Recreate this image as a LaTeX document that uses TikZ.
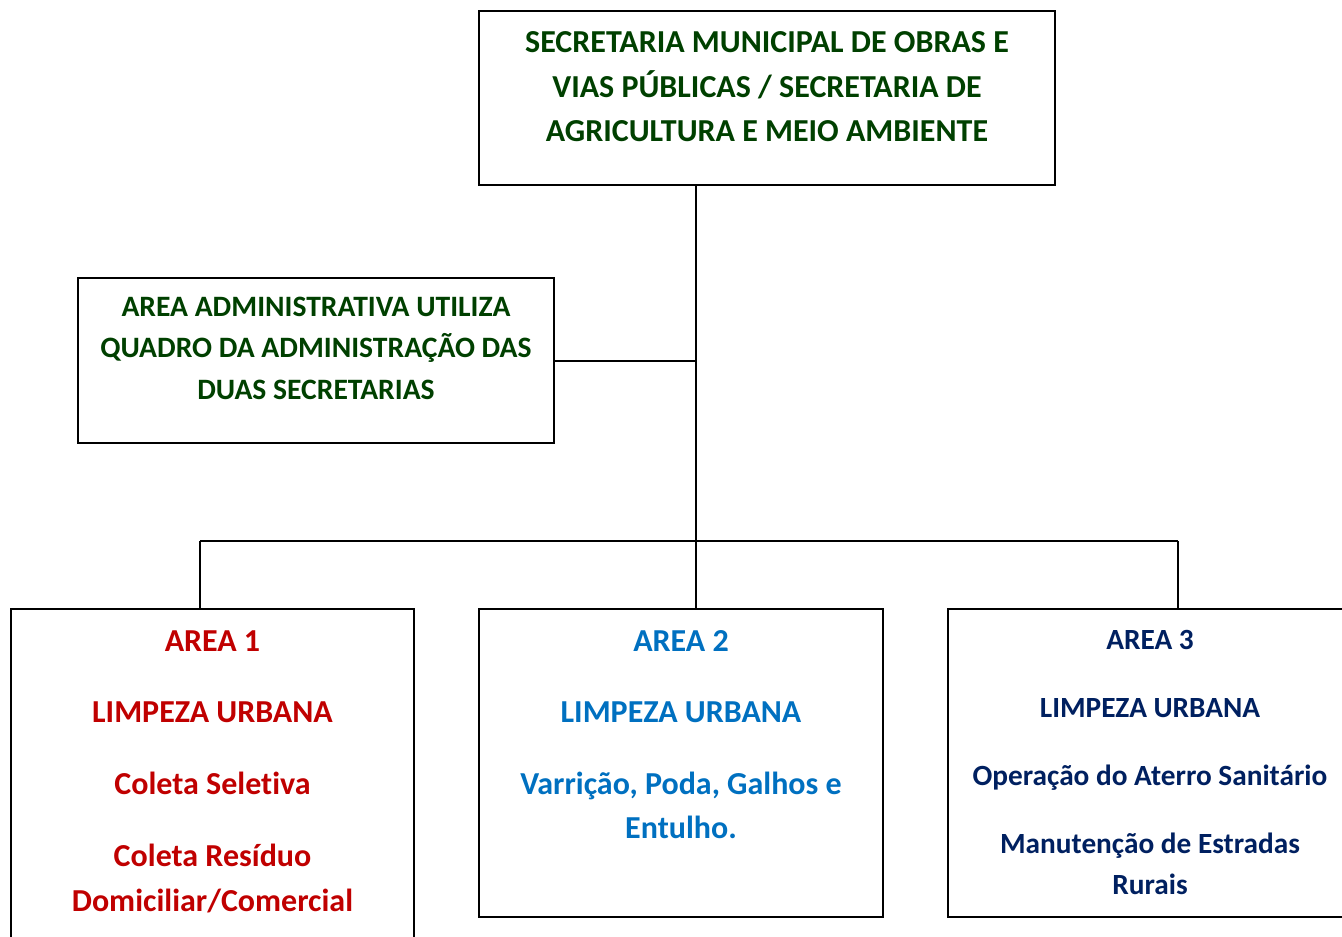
\documentclass[tikz,border=0pt]{standalone}
\usepackage{fontspec}
\setmainfont[Ligatures={NoCommon,NoContextual}]{Carlito}
\definecolor{dgreen}{RGB}{0,64,0}
\definecolor{dred}{RGB}{192,0,0}
\definecolor{mblue}{RGB}{0,112,192}
\definecolor{navy}{RGB}{0,32,96}
\begin{document}
\begin{tikzpicture}[x=1pt,y=-1pt,
  box/.style={draw=black,line width=2pt,inner sep=0pt,outer sep=0pt,fill=none},
  conn/.style={draw=black,line width=2pt},
  txt/.style={anchor=base,inner sep=0pt,font=\fontsize{32}{38}\selectfont\bfseries},
  txta/.style={anchor=base,inner sep=0pt,font=\fontsize{29.6}{35}\selectfont\bfseries},
  txts/.style={anchor=base,inner sep=0pt,font=\fontsize{29.3}{35}\selectfont\bfseries}]
\useasboundingbox (0,0) rectangle (1342,937);
\clip (0,0) rectangle (1342,937);
% boxes
\node[box,minimum width=576pt,minimum height=174pt] (top) at (767,98) {};
\node[box,minimum width=476pt,minimum height=165pt] (admin) at (316,360.5) {};
\node[box,minimum width=403pt,minimum height=351pt] (b1) at (212.5,784.5) {};
\node[box,minimum width=404pt,minimum height=308pt] (b2) at (681,763) {};
\node[box,minimum width=404pt,minimum height=308pt] (b3) at (1150,763) {};
% connectors
\coordinate (j) at (696,541);
\coordinate (h1) at (200,541);
\coordinate (h3) at (1178,541);
\draw[conn] (top.south -| j) -- (j);
\draw[conn] (admin.east) -- (admin.east -| j);
\draw[conn] (h1) -- (h3);
\draw[conn] (h1) -- (h1 |- b1.north);
\draw[conn] (j) -- (j |- b2.north);
\draw[conn] (h3) -- (h3 |- b3.north);
% texts top
\begin{scope}[every node/.style={txt,text=dgreen}]
\node (t1) at (767,52) {SECRETARIA MUNICIPAL DE OBRAS E};
\node (t2) at (767,97) {VIAS PÚBLICAS / SECRETARIA DE};
\node (t3) at (767,141) {AGRICULTURA E MEIO AMBIENTE};
\end{scope}
\begin{scope}[every node/.style={txta,text=dgreen}]
\node (a1) at (316,316) {AREA ADMINISTRATIVA UTILIZA};
\node (a2) at (316,357) {QUADRO DA ADMINISTRAÇÃO DAS};
\node (a3) at (316,399) {DUAS SECRETARIAS};
\end{scope}
\begin{scope}[every node/.style={txt,text=dred}]
\node (r1) at (212.5,651) {AREA 1};
\node (r2) at (212.5,722) {LIMPEZA URBANA};
\node (r3) at (212.5,794) {Coleta Seletiva};
\node (r4) at (212.5,866) {Coleta Resíduo};
\node (r5) at (212.5,911) {Domiciliar/Comercial};
\end{scope}
\begin{scope}[every node/.style={txt,text=mblue}]
\node (m1) at (681,651) {AREA 2};
\node (m2) at (681,722) {LIMPEZA URBANA};
\node (m3) at (681,794) {Varrição, Poda, Galhos e};
\node (m4) at (681,838) {Entulho.};
\end{scope}
\begin{scope}[every node/.style={txts,text=navy}]
\node (n1) at (1150,649) {AREA 3};
\node (n2) at (1150,717) {LIMPEZA URBANA};
\node (n3) at (1150,785) {Operação do Aterro Sanitário};
\node (n4) at (1150,853) {Manutenção de Estradas};
\node (n5) at (1150,894) {Rurais};
\end{scope}
\end{tikzpicture}
\end{document}
